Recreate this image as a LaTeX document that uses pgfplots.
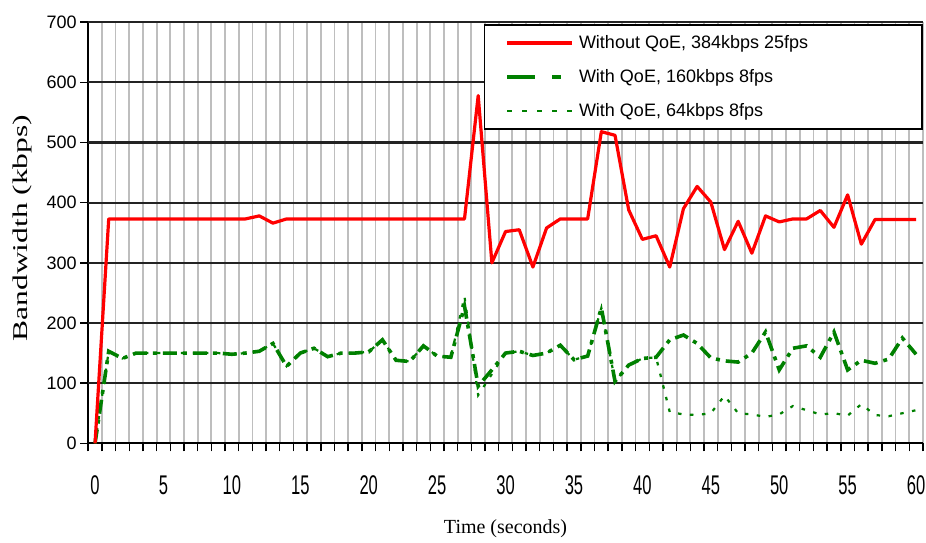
\documentclass[border=0pt]{standalone}
\usepackage{fontspec}
\setmainfont{Liberation Sans}
\newfontfamily\tnr{Liberation Serif}
\usepackage{pgfplots}
\pgfplotsset{compat=1.18}
\usepackage{pgfplotstable}
\definecolor{qgreen}{RGB}{0,128,0}
\definecolor{hgrid}{RGB}{35,35,35}
\definecolor{vgrid}{RGB}{190,190,190}
\newcommand\xl[1]{\scalebox{0.92}[1.5]{#1}}

\pgfplotstableread{
t red dash dot
0 0 0 0
1 373 153 153
2 373 141 141
3 373 150 150
4 373 150 150
5 373 150 150
6 373 150 150
7 373 150 150
8 373 150 150
9 373 150 150
10 373 148 148
11 373 150 150
12 378 153 153
13 366 166 166
14 373 128 128
15 373 150 150
16 373 158 158
17 373 144 144
18 373 150 150
19 373 150 150
20 373 152 152
21 373 172 172
22 373 138 138
23 373 136 136
24 373 162 162
25 373 145 145
26 373 143 143
27 373 228 244
28 578 95 80
29 300 122 115
30 352 150 150
31 355 153 153
32 293 146 146
33 358 150 150
34 373 163 163
35 373 139 139
36 373 145 145
37 518 225 225
38 512 103 103
39 388 130 130
40 339 141 141
41 345 143 143
42 293 172 52
43 390 180 48
44 427 166 47
45 401 142 50
46 322 137 79
47 369 135 50
48 316 150 48
49 378 185 44
50 368 122 48
51 373 158 62
52 373 162 55
53 387 143 48
54 359 185 50
55 413 122 46
56 331 138 65
57 372 133 47
58 372 140 45
59 372 175 50
60 372 148 55
}\datatable

\begin{document}
\begin{tikzpicture}
\begin{axis}[
  scale only axis, width=834.7pt, height=421.1pt,
  xmin=-0.5, xmax=60.5, ymin=0, ymax=700,
  axis x line*=bottom, axis y line*=left,
  axis line style={black, line width=2pt},
  tick align=outside, major tick length=8pt,
  tick style={black, line width=1.4pt},
  xtick={-0.5,0.5,...,60.5}, xticklabels={},
  xmajorgrids, major grid style={vgrid, line width=1.8pt},
  extra x ticks={0,5,...,60},
  extra x tick labels={\xl{0},\xl{5},\xl{10},\xl{15},\xl{20},\xl{25},\xl{30},\xl{35},\xl{40},\xl{45},\xl{50},\xl{55},\xl{60}},
  extra x tick style={major tick length=0pt, grid=none,
    tick label style={font=\fontsize{18}{18}\selectfont, yshift=-29pt}},
  ytick={0,100,...,700},
  extra y ticks={100,200,...,700}, extra y tick labels={},
  extra y tick style={grid=major, major grid style={hgrid, line width=2.2pt}},
  /pgf/number format/assume math mode=true,
  yticklabel style={font=\fontsize{18}{18}\selectfont},
  xlabel={\tnr\fontsize{20}{20}\selectfont Time (seconds)},
  xlabel style={at={(axis description cs:0.5,-0.203)}, anchor=center},
  ylabel={\tnr\fontsize{21}{21}\selectfont\scalebox{1.5}[1]{Bandwidth (kbps)}},
  ylabel style={at={(axis description cs:-0.0787,0.511)}, anchor=center},
  legend style={at={(1,0.9957)}, anchor=north east, draw=black, line width=1.8pt,
    fill=white, font=\fontsize{18}{18}\selectfont, inner xsep=21pt, inner ysep=12pt,
    row sep=22pt, nodes={inner xsep=5pt, inner ysep=0pt, text height=12pt, text depth=0pt}},
  legend cell align=left,
  legend image code/.code={\draw[#1] (0pt,0pt) -- (65pt,0pt);},
]
\addplot[qgreen, line width=2.2pt, dash pattern=on 3.5pt off 8.5pt, forget plot] table[x=t, y=dot] {\datatable};
\addplot[qgreen, line width=3.6pt, dash pattern=on 14pt off 6pt on 4pt off 6pt, forget plot] table[x=t, y=dash] {\datatable};
\addplot[red, line width=3.2pt, line join=round, forget plot] table[x=t, y=red] {\datatable};
\addlegendimage{red, line width=3.4pt}
\addlegendentry{\makebox[317pt][l]{Without QoE, 384kbps 25fps}}
\addlegendimage{qgreen, line width=3.6pt, dash pattern=on 28pt off 17pt on 9pt off 17pt}
\addlegendentry{\makebox[317pt][l]{With QoE, 160kbps 8fps}}
\addlegendimage{qgreen, line width=2.2pt, dash pattern=on 5pt off 10pt}
\addlegendentry{\makebox[317pt][l]{With QoE, 64kbps 8fps}}
\coordinate (BL) at (rel axis cs:0,0);
\coordinate (TR) at (rel axis cs:1,1);
\end{axis}
\pgfresetboundingbox
\path ([xshift=-88.2pt,yshift=-98.7pt]BL) rectangle ([xshift=3.1pt,yshift=22.2pt]TR);
\end{tikzpicture}
\end{document}
